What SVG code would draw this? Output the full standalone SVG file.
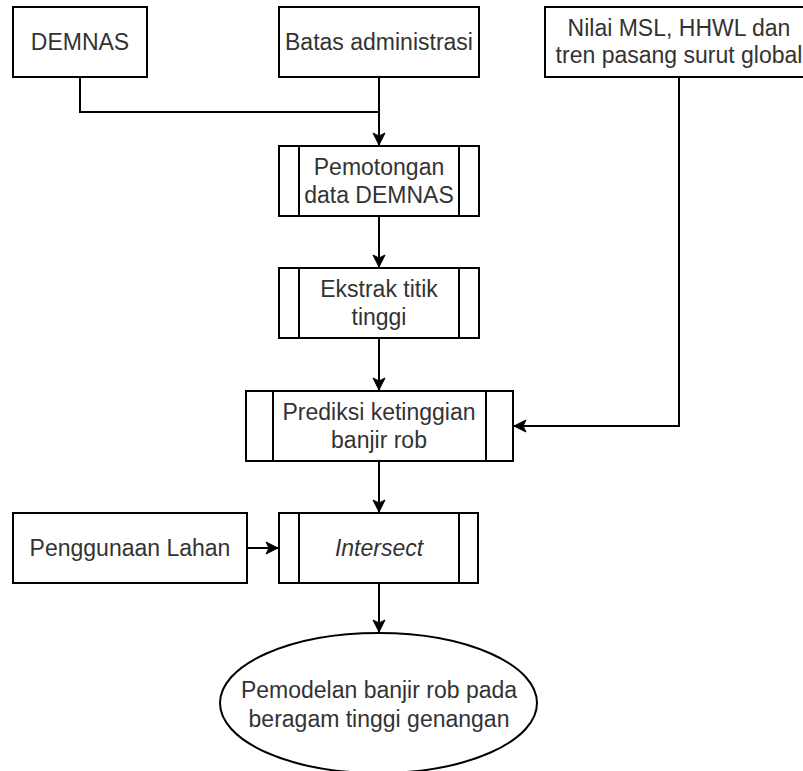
<svg xmlns="http://www.w3.org/2000/svg" width="803" height="771" viewBox="0 0 803 771">
<defs>
<style>
.box{fill:#fff;stroke:#000;stroke-width:2}
.in{fill:none;stroke:#000;stroke-width:2}
.t{font-family:"Liberation Sans",Arial,sans-serif;font-size:23px;fill:#333;text-anchor:middle}
.c{fill:none;stroke:#000;stroke-width:2}
</style>
<marker id="arr" markerUnits="userSpaceOnUse" markerWidth="16" markerHeight="14" refX="13" refY="7" orient="auto">
<path d="M1,1 L13,7 L1,13 L4,7 Z" fill="#000" stroke="#000" stroke-width="1"/>
</marker>
</defs>
<rect width="803" height="771" fill="#fff"/>
<g id="connectors">
<path class="c" d="M80,77 V112 H379"/>
<path class="c" d="M379,77 V145" marker-end="url(#arr)"/>
<path class="c" d="M379,217 V267" marker-end="url(#arr)"/>
<path class="c" d="M379,338 V390" marker-end="url(#arr)"/>
<path class="c" d="M679,77 V426 H514" marker-end="url(#arr)"/>
<path class="c" d="M379,461 V512" marker-end="url(#arr)"/>
<path class="c" d="M247,548 H278" marker-end="url(#arr)"/>
<path class="c" d="M379,583 V632" marker-end="url(#arr)"/>
</g>
<g id="demnas">
<rect class="box" x="13" y="7" width="134" height="70"/>
<text class="t" x="80" y="50">DEMNAS</text>
</g>
<g id="batas">
<rect class="box" x="279" y="7" width="200" height="70"/>
<text class="t" x="379" y="50">Batas administrasi</text>
</g>
<g id="nilai">
<rect class="box" x="545" y="7" width="268" height="70"/>
<text class="t" x="679" y="36">Nilai MSL, HHWL dan</text>
<text class="t" x="679" y="63">tren pasang surut global</text>
</g>
<g id="pemotongan">
<rect class="box" x="279" y="146" width="200" height="70"/>
<path class="in" d="M299,146 V216 M459,146 V216"/>
<text class="t" x="379" y="175">Pemotongan</text>
<text class="t" x="379" y="203">data DEMNAS</text>
</g>
<g id="ekstrak">
<rect class="box" x="279" y="268" width="200" height="70"/>
<path class="in" d="M299,268 V338 M459,268 V338"/>
<text class="t" x="379" y="297">Ekstrak titik</text>
<text class="t" x="379" y="325">tinggi</text>
</g>
<g id="prediksi">
<rect class="box" x="246" y="391" width="267" height="70"/>
<path class="in" d="M273,391 V461 M486,391 V461"/>
<text class="t" x="379" y="420">Prediksi ketinggian</text>
<text class="t" x="379" y="448">banjir rob</text>
</g>
<g id="penggunaan">
<rect class="box" x="13" y="513" width="234" height="70"/>
<text class="t" x="130" y="556">Penggunaan Lahan</text>
</g>
<g id="intersect">
<rect class="box" x="279" y="513" width="199" height="70"/>
<path class="in" d="M299,513 V583 M459,513 V583"/>
<text class="t" x="379" y="556" font-style="italic">Intersect</text>
</g>
<g id="pemodelan">
<ellipse class="box" cx="378.5" cy="703" rx="158.5" ry="70"/>
<text class="t" x="379" y="698">Pemodelan banjir rob pada</text>
<text class="t" x="379" y="727">beragam tinggi genangan</text>
</g>
</svg>
